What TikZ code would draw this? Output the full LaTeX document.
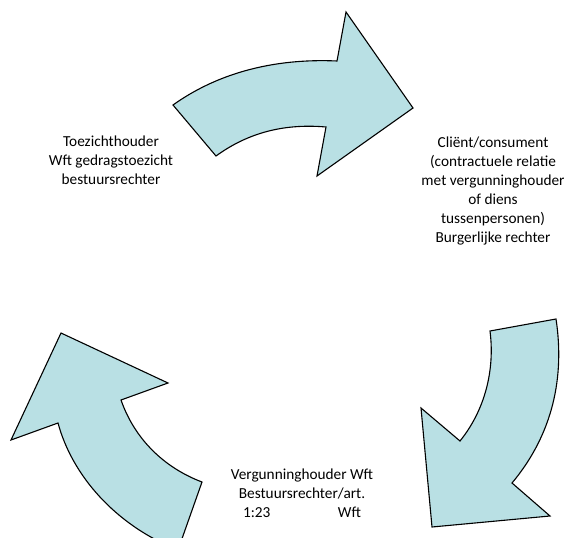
\documentclass[tikz,border=0pt]{standalone}
\usepackage{fontspec}
\setmainfont{Carlito}
\definecolor{arrowfill}{RGB}{185,224,228}
\begin{document}
\begin{tikzpicture}[x=1pt,y=-1pt,
  bigarrow/.style={draw=black,line width=1.1pt,fill=arrowfill,line join=miter},
  lbl/.style={align=center,inner sep=0pt,font=\fontsize{15.3}{19}\selectfont}]
\useasboundingbox (0,0) rectangle (569,537);
\begin{scope}
\clip (0,0) rectangle (569,537);
% top arrow
\draw[bigarrow] (173,105) .. controls (215,75) and (270,58) .. (337,61)
  -- (346,12) -- (413,108) -- (317,176) -- (326,127)
  .. controls (280,123) and (245,135) .. (216,156) -- cycle;
% right arrow
\draw[bigarrow] (490,331) -- (556,319)
  .. controls (566,385) and (548,440) .. (512,483)
  -- (550,516) -- (432,527) -- (421,408) -- (460,441)
  .. controls (485,410) and (495,370) .. (490,331) -- cycle;
% left arrow
\draw[bigarrow] (61,333) -- (168,383) -- (121,400)
  .. controls (135,440) and (165,468) .. (202,482)
  -- (178,550)
  .. controls (115,525) and (72,475) .. (58,423)
  -- (11,440) -- cycle;
\end{scope}
\node[lbl] (toez) at (111,160) {Toezichthouder\\Wft gedragstoezicht\\bestuursrechter};
\node[lbl] (client) at (493,191) {Cliënt/consument\\(contractuele relatie\\met vergunninghouder\\of diens\\tussenpersonen)\\Burgerlijke rechter};
\node[lbl] (verg) at (302,493) {Vergunninghouder Wft\\Bestuursrechter/art.\\\hbox to 118pt{1:23\hfill Wft}};
\end{tikzpicture}
\end{document}
